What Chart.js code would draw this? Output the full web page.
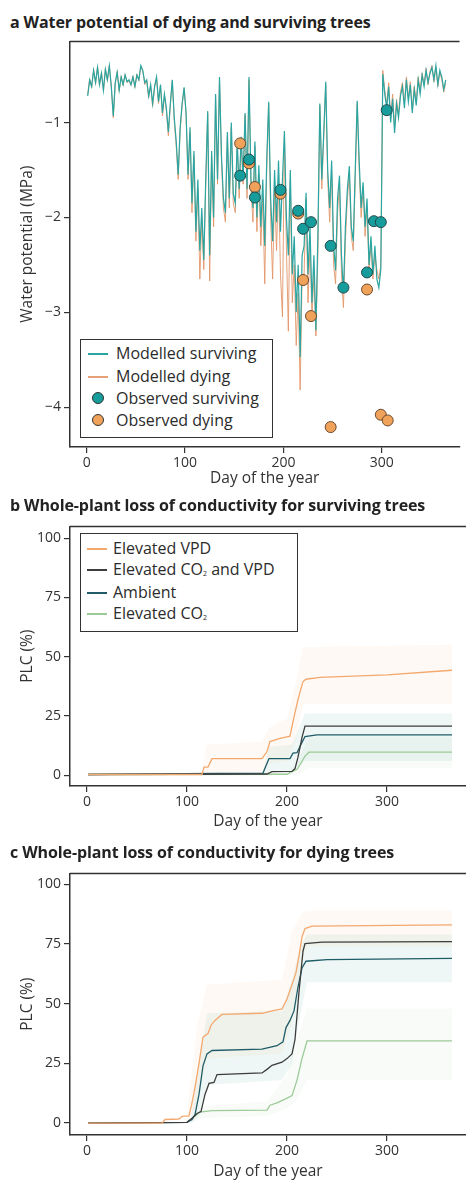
<!DOCTYPE html>
<html>
<head>
<meta charset="utf-8">
<script src="https://cdn.jsdelivr.net/npm/chart.js@4.4.1/dist/chart.umd.min.js"></script>
<style>
  body { margin: 0; background: #fff; width: 466px; height: 1183px; overflow: hidden; position: relative;
         font-family: "Open Sans", "Noto Sans", sans-serif; color: #2b2b2b; }
  .title { position: absolute; left: 10px; font-weight: 700; font-size: 16px; line-height: 20px; white-space: nowrap; color: #222; letter-spacing: -0.1px; }
  .panel { position: absolute; left: 0; }
  .legend { position: absolute; background: #fff; border: 1.5px solid #333; box-sizing: border-box; }
  .legend .row { position: absolute; left: 0; right: 0; height: 20px; font-size: 16px; line-height: 20px; white-space: nowrap; color: #2b2b2b; }
  .legend .sw-line { position: absolute; top: 10px; width: 20px; height: 1.5px; }
  .legend .sw-dot { position: absolute; top: 4px; width: 12px; height: 12px; border-radius: 50%; box-sizing: border-box; border: 1px solid #333; }
  .legend .txt { position: absolute; top: 0; }
  .legend sub { font-size: 7px; vertical-align: -1px; }
</style>
</head>
<body>

<div class="title" style="top:12px">a Water potential of dying and surviving trees</div>
<div class="panel" style="top:30px"><canvas id="chartA" width="466" height="470"></canvas></div>
<div class="legend" id="legendA" style="left:80px; top:339px; width:193px; height:99px"></div>

<div class="title" style="top:495px">b Whole-plant loss of conductivity for surviving trees</div>
<div class="panel" style="top:515px"><canvas id="chartB" width="466" height="325"></canvas></div>
<div class="legend" id="legendB" style="left:80px; top:533px; width:218px; height:99px"></div>

<div class="title" style="top:842px">c Whole-plant loss of conductivity for dying trees</div>
<div class="panel" style="top:862px"><canvas id="chartC" width="466" height="321"></canvas></div>

<script>
const FONT = '"Open Sans", "Noto Sans", sans-serif';

// ---------- shared axis data ----------
const dayTicks = [0, 100, 200, 300];
const dayMin = -17, dayMax = 379;
const wpTicks = [-1, -2, -3, -4];
const wpTickLabels = ['\u22121', '\u22122', '\u22123', '\u22124'];
const plcTicks = [0, 25, 50, 75, 100];
const plcTickLabels = ['0', '25', '50', '75', '100'];

// ---------- panel a: modelled water potential, every second day ----------
const modelDays = Array.from({ length: 183 }, (_, i) => 1 + 2 * i);

const modelSurviving = [
  -0.72,-0.55,-0.62,-0.45,-0.58,-0.42,-0.60,-0.48,-0.66,-0.44,-0.55,-0.40,-0.62,-0.93,-0.58,-0.47,-0.66,-0.52,-0.60,-0.50,-0.57,
  -0.55,-0.60,-0.52,-0.62,-0.50,-0.55,-0.40,-0.45,-0.58,
  -0.55,-0.72,-0.60,-0.80,-0.62,-0.52,-0.78,-0.60,-0.90,-0.70,
  -0.85,-1.10,-0.80,-0.55,-0.95,-1.20,-1.55,-1.05,-0.80,-0.63,
  -0.90,-1.55,-1.05,-1.85,-1.30,-2.15,-1.60,-2.35,-1.90,-2.45,
  -1.60,-0.88,-2.40,-1.30,-2.00,-0.70,-1.60,-0.52,-1.35,-1.80,
  -1.95,-1.10,-1.80,-1.00,-1.75,-1.85,-1.20,-1.70,-1.15,-1.60,
  -0.90,-1.70,-0.52,-1.60,-1.90,-1.20,-2.00,-1.45,-2.10,-1.60,
  -2.30,-1.40,-0.78,-1.80,-2.25,-1.50,-2.05,-1.40,-2.15,-1.60,
  -1.09,-2.00,-2.40,-1.50,-2.60,-2.20,-3.00,-2.50,-3.47,-2.40,
  -2.30,-1.74,-2.60,-2.10,-2.90,-2.40,-3.19,-2.20,-0.80,-1.60,
  -1.10,-0.57,-1.50,-1.90,-1.40,-2.30,-2.56,-1.80,-1.56,-2.40,
  -2.80,-2.10,-1.70,-1.46,-2.10,-2.25,-1.50,-0.77,-1.40,-1.90,
  -1.63,-2.10,-1.80,-2.50,-2.20,-2.60,-2.30,-2.65,-2.74,-2.55,
  -0.49,-0.70,-0.85,-0.62,-1.00,-0.75,-1.11,-0.80,-0.95,-0.72,
  -0.62,-0.85,-0.55,-0.78,-0.60,-0.90,-0.65,-0.82,-0.55,-0.70,
  -0.50,-0.62,-0.45,-0.58,-0.48,-0.42,-0.55,-0.40,-0.60,-0.45,-0.52,-0.65,-0.55
];

const modelDying = [
  -0.70,-0.54,-0.63,-0.44,-0.59,-0.41,-0.61,-0.47,-0.67,-0.43,-0.56,-0.40,-0.63,-0.95,-0.59,-0.46,-0.67,-0.51,-0.61,-0.49,-0.58,
  -0.56,-0.61,-0.51,-0.63,-0.49,-0.56,-0.41,-0.46,-0.60,
  -0.56,-0.74,-0.61,-0.83,-0.63,-0.53,-0.80,-0.61,-0.93,-0.72,
  -0.88,-1.14,-0.82,-0.56,-0.98,-1.25,-1.60,-1.08,-0.82,-0.64,
  -0.90,-1.60,-1.10,-1.95,-1.35,-2.25,-1.70,-2.65,-2.00,-2.55,
  -1.65,-0.90,-2.67,-1.35,-2.10,-0.72,-1.65,-0.55,-1.40,-1.90,
  -2.05,-1.15,-1.90,-1.05,-1.85,-1.95,-1.25,-1.80,-1.20,-1.65,
  -0.92,-1.80,-0.55,-1.70,-2.05,-1.25,-2.15,-1.55,-2.30,-1.80,
  -2.70,-1.50,-0.80,-2.00,-2.65,-1.70,-2.35,-1.60,-2.60,-3.05,
  -1.15,-2.30,-3.20,-1.60,-2.90,-2.50,-3.35,-2.80,-3.82,-2.60,
  -2.60,-1.80,-2.90,-2.30,-3.05,-2.60,-3.25,-2.40,-0.82,-1.70,
  -1.15,-0.60,-1.60,-2.05,-1.50,-2.50,-2.70,-1.95,-1.65,-2.60,
  -2.95,-2.25,-1.80,-1.55,-2.20,-2.35,-1.60,-0.80,-1.50,-2.00,
  -1.70,-2.20,-1.90,-2.55,-2.30,-2.65,-2.40,-2.55,-2.65,-2.50,
  -0.45,-0.66,-0.80,-0.58,-0.95,-0.70,-1.05,-0.76,-0.90,-0.68,
  -0.58,-0.80,-0.52,-0.74,-0.57,-0.86,-0.62,-0.78,-0.52,-0.66,
  -0.48,-0.60,-0.43,-0.60,-0.46,-0.40,-0.57,-0.42,-0.62,-0.47,-0.55,-0.68,-0.58
];

const obsSurvDays = [156, 165, 171, 197, 215, 220, 228, 248, 261, 285, 292, 299, 305];
const obsSurvVals = [-1.56, -1.39, -1.79, -1.71, -1.93, -2.12, -2.05, -2.30, -2.74, -2.58, -2.04, -2.05, -0.87];
const obsDyingDays = [156, 165, 171, 197, 215, 220, 228, 248, 285, 299, 306];
const obsDyingVals = [-1.22, -1.43, -1.68, -1.75, -1.96, -2.66, -3.04, -4.21, -2.76, -4.08, -4.14];

// ---------- panel b: PLC, surviving trees ----------
const bVpdDays = [1, 115, 117, 121, 125, 175, 180, 183, 193, 203, 206, 211, 216, 219, 233, 300, 365];
const bVpdVals = [0.3, 0.3, 3.4, 3.4, 7, 7, 10, 14.2, 15.5, 16.5, 22.6, 32, 39.5, 40.5, 41.3, 42.3, 44.3];
const bCo2VpdDays = [1, 180, 185, 205, 208, 211, 215, 218, 365];
const bCo2VpdVals = [0.3, 0.5, 1.5, 1.6, 2.8, 7.6, 16, 20.7, 20.7];
const bAmbDays = [1, 130, 176, 179, 182, 203, 206, 210, 214, 218, 230, 365];
const bAmbVals = [0.3, 0.8, 0.9, 4, 7, 7, 9.3, 9.5, 13, 16.3, 17, 17];
const bCo2Days = [1, 200, 205, 210, 213, 218, 222, 365];
const bCo2Vals = [0.3, 0.4, 1.5, 2.5, 4.4, 8, 9.7, 9.7];

const bBandVpdDays = [116, 120, 175, 182, 200, 208, 216, 365];
const bBandVpdLow = [0, 1, 1, 5, 6, 14, 30, 30];
const bBandVpdHigh = [4, 13, 14, 20, 24, 38, 54, 55];
const bBandTealDays = [176, 182, 205, 212, 218, 365];
const bBandTealLow = [0, 1, 2, 4, 6, 6];
const bBandTealHigh = [2, 12, 13, 20, 26, 26];
const bBandGreenDays = [200, 210, 222, 365];
const bBandGreenLow = [0, 0, 3, 3];
const bBandGreenHigh = [1, 6, 16, 16];

// ---------- panel c: PLC, dying trees ----------
const cVpdDays = [1, 75, 78, 92, 95, 102, 105, 108, 112, 116, 121, 124, 128, 135, 175, 185, 195, 200, 205, 209, 212, 215, 218, 225, 365];
const cVpdVals = [0, 0, 1.5, 1.7, 2.8, 3, 8.5, 15, 25, 36, 37.5, 41, 43, 45.5, 46, 47, 47.8, 52, 58, 63, 70, 78, 81.5, 82.5, 83];
const cCo2VpdDays = [1, 100, 105, 110, 114, 118, 122, 127, 130, 175, 180, 185, 195, 200, 205, 208, 212, 216, 218, 235, 365];
const cCo2VpdVals = [0, 0.3, 2, 4, 4.8, 12, 16.6, 17, 20.3, 21, 22.5, 24.2, 25.5, 27, 29, 35, 55, 72, 75.2, 75.8, 76];
const cAmbDays = [1, 100, 105, 108, 112, 116, 120, 125, 175, 190, 196, 199, 203, 207, 211, 215, 219, 240, 365];
const cAmbVals = [0, 0.3, 1.5, 3.5, 12, 24, 29, 30.4, 31, 32.4, 34, 40, 43, 47, 57, 65, 67.8, 68.5, 69];
const cCo2Days = [1, 100, 108, 113, 125, 180, 183, 190, 198, 205, 210, 215, 220, 365];
const cCo2Vals = [0, 0.3, 3, 4.6, 5.2, 5.4, 7.5, 8.5, 10, 11.5, 18, 27, 34.4, 34.4];

const cBandVpdDays = [100, 110, 120, 195, 205, 215, 220, 365];
const cBandVpdLow = [0, 8, 27, 29, 42, 68, 74, 74];
const cBandVpdHigh = [4, 40, 58, 60, 80, 88, 89, 89];
const cBandTealDays = [104, 112, 120, 195, 205, 213, 220, 365];
const cBandTealLow = [0, 3, 16, 18, 25, 45, 59, 59];
const cBandTealHigh = [2, 25, 46, 47, 60, 74, 79, 79];
const cBandGreenDays = [104, 115, 180, 200, 210, 220, 365];
const cBandGreenLow = [0, 2, 3, 6, 10, 18, 18];
const cBandGreenHigh = [2, 7, 9, 20, 35, 48, 48];

// ---------- colours ----------
const TEAL = '#2aa5a1';
const TEAL_DOT = '#169d9b';
const ORANGE_LINE = 'rgba(226,150,105,0.9)';
const ORANGE_DOT = '#f0a25a';
const DOT_EDGE = '#23484a';
const VPD = '#f3a86e';
const CO2VPD = '#3d3d3d';
const AMB = '#1f5c68';
const CO2 = '#9ccb98';
const BAND_VPD = 'rgba(250,205,165,0.12)';
const BAND_TEAL = 'rgba(150,205,195,0.16)';
const BAND_GREEN = 'rgba(195,222,195,0.12)';

const pts = (xs, ys) => xs.map((x, i) => ({ x: x, y: ys[i] }));

// top edge of the plot frame (the axes only draw left and bottom)
const frameTop = {
  id: 'frameTop',
  afterDraw(chart) {
    const { ctx, chartArea: a } = chart;
    ctx.save();
    ctx.strokeStyle = '#333';
    ctx.lineWidth = 1.5;
    ctx.beginPath();
    ctx.moveTo(a.left, a.top);
    ctx.lineTo(a.right, a.top);
    ctx.stroke();
    ctx.restore();
  }
};

function xAxis(height) {
  return {
    type: 'linear', min: dayMin, max: dayMax,
    afterBuildTicks: s => { s.ticks = dayTicks.map(v => ({ value: v })); },
    afterFit: s => { s.height = height; },
    ticks: { color: '#333', font: { family: FONT, size: 14 }, padding: 2, maxRotation: 0 },
    grid: { display: true, drawOnChartArea: false, drawTicks: true, tickLength: 6, color: '#333', lineWidth: 1.2 },
    border: { display: true, color: '#333', width: 1.5 },
    title: { display: true, text: 'Day of the year', color: '#333', font: { family: FONT, size: 15.5 }, padding: 0 }
  };
}

function yAxis(min, max, tickVals, tickLabels, title) {
  return {
    type: 'linear', min: min, max: max,
    afterBuildTicks: s => { s.ticks = tickVals.map(v => ({ value: v })); },
    afterFit: s => { s.width = 58; },
    ticks: {
      color: '#333', font: { family: FONT, size: 14 }, padding: 3,
      callback: v => tickLabels[tickVals.indexOf(v)]
    },
    grid: { display: true, drawOnChartArea: false, drawTicks: true, tickLength: 6, color: '#333', lineWidth: 1.2 },
    border: { display: true, color: '#333', width: 1.5 },
    title: { display: true, text: title, color: '#333', font: { family: FONT, size: 15.5 }, padding: { top: 6, bottom: 0 } }
  };
}

function lineSet(days, vals, color, width, order) {
  return {
    data: pts(days, vals), showLine: true, borderColor: color, borderWidth: width,
    pointRadius: 0, tension: 0, fill: false, order: order
  };
}

// a band is an upper edge filled down to the lower edge that follows it
function bandSets(days, low, high, color) {
  return [
    { data: pts(days, high), showLine: true, borderWidth: 0, borderColor: 'transparent',
      backgroundColor: color, pointRadius: 0, tension: 0, fill: '+1', order: 20 },
    { data: pts(days, low), showLine: true, borderWidth: 0, borderColor: 'transparent',
      backgroundColor: 'transparent', pointRadius: 0, tension: 0, fill: false, order: 20 }
  ];
}

function baseOptions(padding, xHeight, yMin, yMax, yTicks, yLabels, yTitle) {
  return {
    responsive: false,
    animation: false,
    devicePixelRatio: 1,
    layout: { padding: padding },
    plugins: { legend: { display: false }, tooltip: { enabled: false } },
    scales: {
      x: xAxis(xHeight),
      y: yAxis(yMin, yMax, yTicks, yLabels, yTitle)
    }
  };
}

// ---------- panel a ----------
new Chart(document.getElementById('chartA'), {
  type: 'scatter',
  data: {
    datasets: [
      { data: pts(obsSurvDays, obsSurvVals), pointRadius: 5.5, pointBackgroundColor: TEAL_DOT,
        pointBorderColor: DOT_EDGE, pointBorderWidth: 1, order: 0 },
      { data: pts(obsDyingDays, obsDyingVals), pointRadius: 5.5, pointBackgroundColor: ORANGE_DOT,
        pointBorderColor: '#6a4a30', pointBorderWidth: 1, order: 1 },
      lineSet(modelDays, modelSurviving, TEAL, 1.2, 2),
      lineSet(modelDays, modelDying, ORANGE_LINE, 1.0, 3)
    ]
  },
  options: baseOptions({ top: 7, left: 12, right: 0, bottom: 12 }, 41, -4.42, -0.145, wpTicks, wpTickLabels, 'Water potential (MPa)'),
  plugins: [frameTop]
});

// ---------- panel b ----------
new Chart(document.getElementById('chartB'), {
  type: 'scatter',
  data: {
    datasets: [
      lineSet(bVpdDays, bVpdVals, VPD, 1.3, 0),
      lineSet(bCo2VpdDays, bCo2VpdVals, CO2VPD, 1.3, 1),
      lineSet(bAmbDays, bAmbVals, AMB, 1.3, 2),
      lineSet(bCo2Days, bCo2Vals, CO2, 1.3, 3),
      ...bandSets(bBandVpdDays, bBandVpdLow, bBandVpdHigh, BAND_VPD),
      ...bandSets(bBandTealDays, bBandTealLow, bBandTealHigh, BAND_TEAL),
      ...bandSets(bBandGreenDays, bBandGreenLow, bBandGreenHigh, BAND_GREEN)
    ]
  },
  options: baseOptions({ top: 7, left: 12, right: 0, bottom: 9 }, 45, -4.56, 105, plcTicks, plcTickLabels, 'PLC (%)'),
  plugins: [frameTop]
});

// ---------- panel c ----------
new Chart(document.getElementById('chartC'), {
  type: 'scatter',
  data: {
    datasets: [
      lineSet(cVpdDays, cVpdVals, VPD, 1.3, 0),
      lineSet(cCo2VpdDays, cCo2VpdVals, CO2VPD, 1.3, 1),
      lineSet(cAmbDays, cAmbVals, AMB, 1.3, 2),
      lineSet(cCo2Days, cCo2Vals, CO2, 1.3, 3),
      ...bandSets(cBandVpdDays, cBandVpdLow, cBandVpdHigh, BAND_VPD),
      ...bandSets(cBandTealDays, cBandTealLow, cBandTealHigh, BAND_TEAL),
      ...bandSets(cBandGreenDays, cBandGreenLow, cBandGreenHigh, BAND_GREEN)
    ]
  },
  options: baseOptions({ top: 9, left: 12, right: 0, bottom: 2 }, 46, -5.0, 104.6, plcTicks, plcTickLabels, 'PLC (%)'),
  plugins: [frameTop]
});

// ---------- legends ----------
const legendA = [
  { kind: 'line', color: TEAL, text: 'Modelled surviving' },
  { kind: 'line', color: ORANGE_LINE, text: 'Modelled dying' },
  { kind: 'dot', color: TEAL_DOT, text: 'Observed surviving' },
  { kind: 'dot', color: ORANGE_DOT, text: 'Observed dying' }
];
const legendB = [
  { kind: 'line', color: VPD, text: 'Elevated VPD' },
  { kind: 'line', color: CO2VPD, text: 'Elevated CO<sub>2</sub> and VPD' },
  { kind: 'line', color: AMB, text: 'Ambient' },
  { kind: 'line', color: CO2, text: 'Elevated CO<sub>2</sub>' }
];

function buildLegend(el, items, rowTops, swLeft, txtLeft) {
  items.forEach((it, i) => {
    const row = document.createElement('div');
    row.className = 'row';
    row.style.top = rowTops[i] + 'px';
    const sw = document.createElement('div');
    if (it.kind === 'line') {
      sw.className = 'sw-line';
      sw.style.left = swLeft + 'px';
      sw.style.background = it.color;
    } else {
      sw.className = 'sw-dot';
      sw.style.left = (swLeft + 4) + 'px';
      sw.style.background = it.color;
    }
    const txt = document.createElement('span');
    txt.className = 'txt';
    txt.style.left = txtLeft + 'px';
    txt.innerHTML = it.text;
    row.appendChild(sw);
    row.appendChild(txt);
    el.appendChild(row);
  });
}

buildLegend(document.getElementById('legendA'), legendA, [3, 26, 48, 70], 7, 35);
buildLegend(document.getElementById('legendB'), legendB, [4, 25, 48, 69], 6, 32);
</script>
</body>
</html>
